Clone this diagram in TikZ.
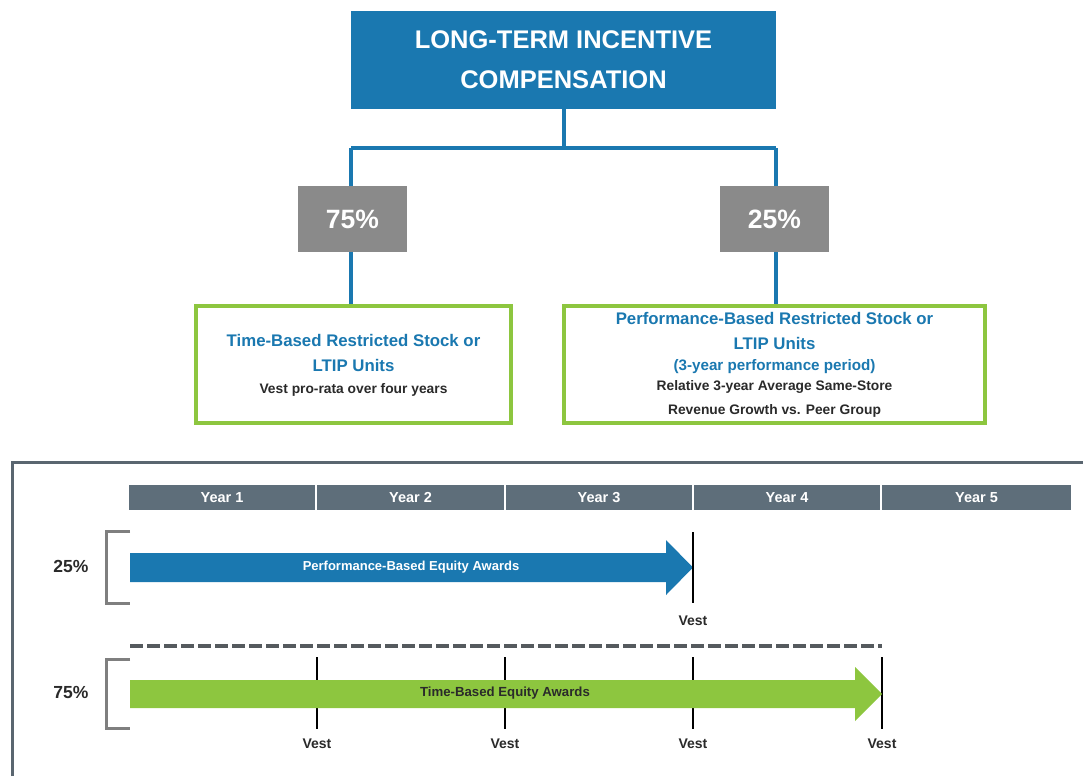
\documentclass[tikz,border=0pt]{standalone}
\usepackage{fontspec}
\setmainfont{Liberation Sans}
\usetikzlibrary{calc}
\definecolor{ltblue}{HTML}{1A78B0}
\definecolor{ltgreen}{HTML}{8DC63F}
\definecolor{ltgray}{HTML}{8A8A8A}
\definecolor{barslate}{HTML}{5E6E7A}
\definecolor{framegray}{HTML}{5A6670}
\definecolor{dashgray}{HTML}{555A5E}
\definecolor{brgray}{HTML}{7F7F7F}
\definecolor{txtdark}{HTML}{2A2A2A}
\tikzset{
  titlebox/.style={fill=ltblue, text=white, font=\bfseries\fontsize{25.5}{40}\selectfont, align=center, minimum width=425pt, minimum height=98pt, inner sep=0pt},
  pctbox/.style={fill=ltgray, text=white, font=\bfseries\fontsize{26.5}{30}\selectfont, minimum width=109pt, minimum height=66pt, inner sep=0pt},
  greenbox/.style={draw=ltgreen, line width=3.5pt, fill=white, minimum height=117pt, inner sep=0pt},
  bluetxt/.style={text=ltblue, font=\bfseries\fontsize{16.8}{25}\selectfont},
  darktxt/.style={text=txtdark, font=\bfseries\fontsize{13.8}{24}\selectfont},
  conn/.style={draw=ltblue, line width=4pt},
  yearcell/.style={fill=barslate, text=white, font=\bfseries\fontsize{14.5}{15}\selectfont, minimum height=25pt, inner sep=0pt},
  bracketline/.style={draw=brgray, line width=3pt},
  vestline/.style={draw=black, line width=1.6pt},
  vesttxt/.style={text=txtdark, font=\bfseries\fontsize{14}{14}\selectfont},
  pcttxt/.style={text=txtdark, font=\bfseries\fontsize{17.5}{18}\selectfont},
}
\begin{document}
\begin{tikzpicture}[x=1pt,y=-1pt]
\useasboundingbox (0,0) rectangle (1083,776);
% top box
\node[titlebox] (title) at (563.5,60) {LONG-TERM INCENTIVE\\COMPENSATION};
\node[pctbox] (p75) at (352.5,219) {75\%};
\node[pctbox] (p25) at (774.5,219) {25\%};
\node[greenbox, minimum width=315pt] (tb) at (353.5,364.5) {};
\node[greenbox, minimum width=421pt] (pb) at (774.5,364.5) {};
\coordinate (split) at (563.5,148);
\coordinate (splitL) at (351,148);
\coordinate (splitR) at (776,148);
\draw[conn] (title.south) -- (split);
\draw[conn] (splitL) -- (splitR);
\draw[conn] (splitL) -- (splitL |- p75.north);
\draw[conn] (splitR) -- (splitR |- p25.north);
\draw[conn] (p75.south -| splitL) -- (splitL |- tb.north);
\draw[conn] (p25.south -| splitR) -- (splitR |- pb.north);
% texts in green boxes
\node[bluetxt] (tb1) at (353.5,340) {Time-Based Restricted Stock or};
\node[bluetxt] (tb2) at (353.5,365) {LTIP Units};
\node[darktxt] (tb3) at (353.5,390) {Vest pro-rata over four years};
\node[bluetxt] (pb1) at (774.5,318) {Performance-Based Restricted Stock or};
\node[bluetxt] (pb2) at (774.5,343) {LTIP Units};
\node[bluetxt, font=\bfseries\fontsize{15.2}{20}\selectfont] (pb3) at (774.5,367) {(3-year performance period)};
\node[darktxt] (pb4) at (774.5,387) {Relative 3-year Average Same-Store};
\node[darktxt] (pb5) at (774.5,411) {Revenue Growth vs. Peer Group};
% frame
\coordinate (fr1) at (12,776);
\coordinate (fr2) at (12,462);
\coordinate (fr3) at (1083,462);
\draw[draw=framegray, line width=3pt] (fr1) -- (fr2) -- (fr3);
% year bar
\foreach \i/\a/\b in {1/128/316,2/316/505,3/505/693,4/693/881,5/881/1072}{
  \node[yearcell, minimum width={\b-\a-1.2}] (y\i) at ({(\a+\b)/2},497.5) {Year \i};
}
% 25% row
\coordinate (b1a) at (130,531);
\coordinate (b1b) at (106,531);
\coordinate (b1c) at (106,603);
\coordinate (b1d) at (130,603);
\draw[bracketline] (b1a) -- (b1b) -- (b1c) -- (b1d);
\node[pcttxt] (pc25) at (71,566) {25\%};
\fill[ltblue] (130,553) -- (666,553) -- (666,540) -- (693,567.5) -- (666,595) -- (666,582) -- (130,582) -- cycle;
\node[text=white, font=\bfseries\fontsize{13}{13}\selectfont] (perfaw) at (411,567) {Performance-Based Equity Awards};
\coordinate (v1t) at (693,532);
\coordinate (v1b) at (693,603);
\draw[vestline] (v1t) -- (v1b);
\node[vesttxt] (vest0) at (693,621) {Vest};
% dashed separator
\coordinate (dsA) at (130,646);
\coordinate (dsB) at (882,646);
\draw[draw=dashgray, line width=4pt, dash pattern=on 12.5pt off 4.5pt] (dsA) -- (dsB);
% 75% row
\coordinate (b2a) at (130,659);
\coordinate (b2b) at (106,659);
\coordinate (b2c) at (106,728);
\coordinate (b2d) at (130,728);
\draw[bracketline] (b2a) -- (b2b) -- (b2c) -- (b2d);
\node[pcttxt] (pc75) at (71,692) {75\%};
\foreach \x/\n in {317/1,505/2,693/3,882/4}{
  \coordinate (tv\n t) at (\x,657);
  \coordinate (tv\n b) at (\x,729);
  \draw[vestline] (tv\n t) -- (tv\n b);
  \node[vesttxt] (vest\n) at (\x,744) {Vest};
}
\fill[ltgreen] (130,680) -- (855,680) -- (855,667) -- (882,694) -- (855,721) -- (855,708) -- (130,708) -- cycle;
\node[text=txtdark, font=\bfseries\fontsize{13.2}{13}\selectfont] (timeaw) at (505,693) {Time-Based Equity Awards};
\end{tikzpicture}
\end{document}
